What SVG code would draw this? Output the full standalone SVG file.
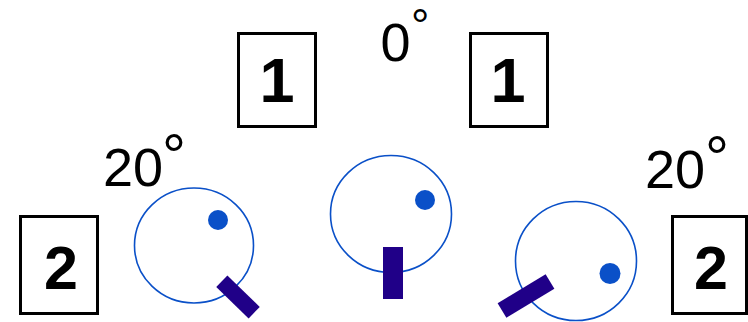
<svg xmlns="http://www.w3.org/2000/svg" width="748" height="322" viewBox="0 0 748 322">
<style>
.box{fill:#fff;stroke:#000;stroke-width:3}
.num{font-family:"Liberation Sans",Arial,sans-serif;font-weight:bold;fill:#000;text-anchor:middle}
.ang{font-family:"Liberation Sans",Arial,sans-serif;font-size:54px;fill:#000}
.deg{font-family:"Liberation Sans",Arial,sans-serif;font-size:60px;fill:#000}
.deg-top{font-family:"Liberation Sans",Arial,sans-serif;font-size:46px;fill:#000}
.ring{fill:none;stroke:#0a50c8;stroke-width:1.6}
.dot{fill:#0a50c8}
.bar{fill:#200088}
</style>
<rect width="748" height="322" fill="#fff"/>
<g id="box-1-left"><rect class="box" x="238.5" y="33.5" width="77" height="93"/><text class="num" x="277" y="102" font-size="63">1</text></g>
<g id="box-1-right"><rect class="box" x="470.5" y="33.5" width="77" height="93"/><text class="num" x="508" y="102" font-size="63">1</text></g>
<g id="box-2-left"><rect class="box" x="20.5" y="216.5" width="77" height="97"/><text class="num" x="61" y="289" font-size="61">2</text></g>
<g id="box-2-right"><rect class="box" x="672.5" y="216.5" width="74" height="97"/><text class="num" x="711" y="289" font-size="61">2</text></g>
<g id="label-0"><text class="ang" x="380.5" y="61">0</text><text class="deg-top" x="411" y="42">°</text></g>
<g id="label-20-left"><text class="ang" x="103" y="186">20</text><text class="deg" x="162" y="176">°</text></g>
<g id="label-20-right"><text class="ang" x="645" y="187.5">20</text><text class="deg" x="705" y="178">°</text></g>
<g id="dial-left"><ellipse class="ring" cx="194" cy="245.5" rx="59.5" ry="57.5"/><circle class="dot" cx="218" cy="220" r="10"/><rect class="bar" x="-8" y="-22.5" width="16" height="45" transform="translate(238,297) rotate(-46)"/></g>
<g id="dial-middle"><ellipse class="ring" cx="391" cy="214" rx="60.5" ry="58.5"/><circle class="dot" cx="425" cy="200" r="10"/><rect class="bar" x="383" y="247" width="20" height="52"/></g>
<g id="dial-right"><ellipse class="ring" cx="576" cy="261" rx="60.5" ry="59.5"/><circle class="dot" cx="610" cy="273.5" r="10.5"/><rect class="bar" x="-8.5" y="-28" width="17" height="56" transform="translate(526,296) rotate(59)"/></g>
<g id="connectors"></g>
</svg>
